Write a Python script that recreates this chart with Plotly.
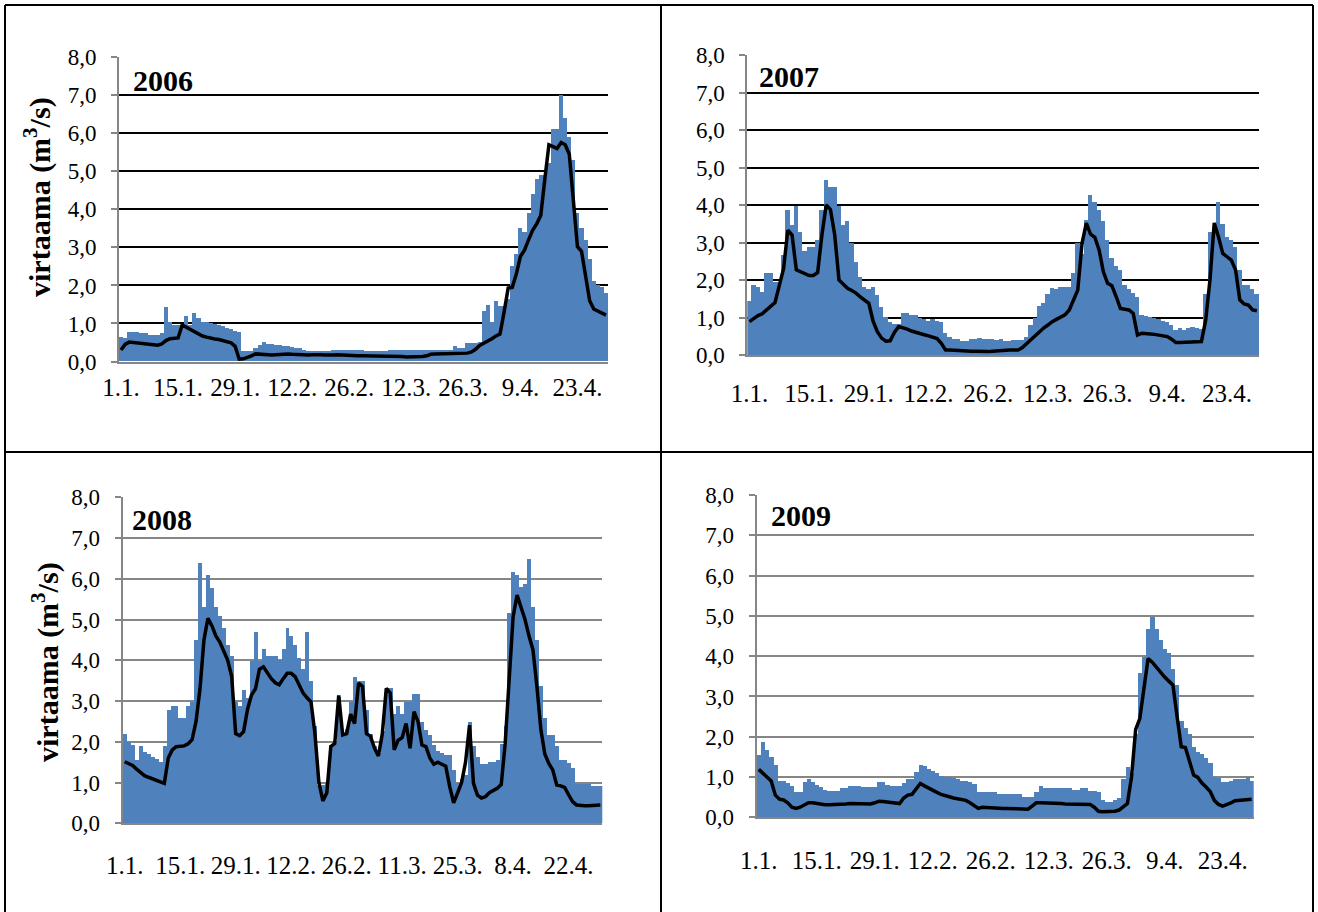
import plotly.graph_objects as go

W, H = 1318, 912
FONT = "Liberation Serif, Times New Roman, serif"
BAR_COLOR = "#4F81BD"

# Daily discharge (m3/s), 1 Jan - 30 Apr, and the smoothed curve for each year
bars_2006 = [0.64, 0.60, 0.77, 0.77, 0.77, 0.73, 0.73, 0.68, 0.68, 0.68,
             0.73, 1.42, 1.02, 0.95, 0.95, 0.95, 1.20, 0.95, 1.26, 1.13,
             1.02, 1.02, 1.00, 0.98, 0.95, 0.92, 0.88, 0.85, 0.80, 0.77,
             0.26, 0.26, 0.26, 0.35, 0.43, 0.50, 0.46, 0.46, 0.43, 0.42,
             0.40, 0.40, 0.38, 0.36, 0.34, 0.30, 0.28, 0.28, 0.28, 0.28,
             0.28, 0.28, 0.30, 0.30, 0.30, 0.30, 0.30, 0.30, 0.30, 0.30,
             0.26, 0.26, 0.26, 0.26, 0.27, 0.27, 0.30, 0.30, 0.30, 0.30,
             0.30, 0.30, 0.30, 0.30, 0.30, 0.30, 0.30, 0.30, 0.30, 0.30,
             0.30, 0.30, 0.39, 0.36, 0.36, 0.47, 0.47, 0.47, 0.50, 1.32,
             1.48, 1.03, 1.58, 1.44, 1.44, 1.64, 2.51, 2.81, 3.51, 3.40,
             3.90, 4.40, 4.80, 4.90, 4.90, 5.20, 6.10, 6.10, 7.00, 6.40,
             5.90, 5.30, 3.90, 3.50, 3.20, 2.70, 2.10, 2.00, 1.95, 1.80]
line_2006 = [0.30, 0.45, 0.51, 0.50, 0.49, 0.48, 0.47, 0.45, 0.44, 0.43,
             0.46, 0.55, 0.60, 0.61, 0.62, 0.96, 0.90, 0.83, 0.77, 0.72,
             0.67, 0.64, 0.61, 0.59, 0.58, 0.55, 0.52, 0.49, 0.40, 0.06,
             0.07, 0.10, 0.15, 0.20, 0.19, 0.18, 0.18, 0.17, 0.18, 0.19,
             0.20, 0.20, 0.19, 0.18, 0.18, 0.17, 0.17, 0.18, 0.19, 0.18,
             0.17, 0.16, 0.17, 0.18, 0.17, 0.16, 0.16, 0.15, 0.15, 0.15,
             0.15, 0.15, 0.14, 0.14, 0.14, 0.13, 0.13, 0.13, 0.13, 0.13,
             0.12, 0.12, 0.12, 0.12, 0.13, 0.15, 0.19, 0.20, 0.20, 0.20,
             0.20, 0.21, 0.21, 0.21, 0.21, 0.22, 0.25, 0.32, 0.42, 0.48,
             0.52, 0.60, 0.67, 0.72, 1.30, 1.93, 1.95, 2.30, 2.76, 2.93,
             3.20, 3.45, 3.62, 3.84, 4.80, 5.70, 5.65, 5.60, 5.76, 5.70,
             5.45, 4.30, 3.02, 2.90, 2.30, 1.60, 1.38, 1.32, 1.26, 1.22]

bars_2007 = [1.45, 1.88, 1.82, 1.69, 2.18, 2.18, 1.94, 1.94, 2.68, 3.87,
             3.47, 3.97, 3.27, 2.77, 2.89, 2.89, 3.07, 3.87, 4.68, 4.49,
             4.49, 3.97, 3.47, 3.57, 3.00, 2.47, 2.07, 1.82, 1.76, 1.82,
             1.60, 1.29, 1.02, 0.89, 0.84, 0.84, 1.13, 1.11, 1.08, 1.08,
             1.00, 0.97, 0.91, 0.95, 0.91, 0.89, 0.58, 0.47, 0.42, 0.42,
             0.37, 0.37, 0.42, 0.42, 0.46, 0.42, 0.42, 0.42, 0.40, 0.42,
             0.37, 0.37, 0.40, 0.40, 0.40, 0.47, 0.80, 0.98, 1.31, 1.38,
             1.63, 1.80, 1.76, 1.82, 1.82, 1.82, 2.18, 3.00, 2.70, 3.60,
             4.28, 4.09, 3.87, 3.57, 3.07, 2.58, 2.37, 2.27, 1.87, 1.75,
             1.66, 1.54, 1.08, 1.05, 1.02, 1.00, 0.96, 0.92, 0.87, 0.80,
             0.67, 0.71, 0.67, 0.71, 0.76, 0.73, 0.69, 1.62, 3.29, 3.29,
             4.09, 3.49, 3.15, 3.07, 2.87, 2.28, 1.87, 1.87, 1.75, 1.62]
line_2007 = [0.89, 0.98, 1.05, 1.10, 1.20, 1.28, 1.40, 1.85, 2.30, 3.33,
             3.20, 2.27, 2.22, 2.18, 2.12, 2.12, 2.20, 3.20, 4.00, 3.88,
             3.20, 2.00, 1.88, 1.78, 1.72, 1.65, 1.55, 1.45, 1.38, 0.90,
             0.62, 0.45, 0.37, 0.38, 0.60, 0.76, 0.73, 0.69, 0.64, 0.60,
             0.56, 0.54, 0.51, 0.48, 0.44, 0.31, 0.13, 0.13, 0.12, 0.12,
             0.12, 0.11, 0.10, 0.10, 0.09, 0.09, 0.09, 0.10, 0.11, 0.13,
             0.13, 0.13, 0.13, 0.13, 0.20, 0.31, 0.42, 0.53, 0.62, 0.72,
             0.80, 0.89, 0.95, 1.00, 1.07, 1.20, 1.45, 1.73, 2.98, 3.52,
             3.22, 3.14, 2.80, 2.22, 1.91, 1.85, 1.56, 1.24, 1.22, 1.20,
             1.11, 0.53, 0.58, 0.58, 0.56, 0.55, 0.53, 0.51, 0.49, 0.42,
             0.33, 0.33, 0.33, 0.33, 0.34, 0.35, 0.36, 0.93, 2.00, 3.52,
             3.15, 2.71, 2.62, 2.53, 2.27, 1.47, 1.36, 1.33, 1.20, 1.18]

bars_2008 = [2.18, 1.99, 1.92, 1.55, 1.88, 1.74, 1.69, 1.63, 1.57, 1.50,
             1.88, 2.78, 2.88, 2.88, 2.58, 2.58, 2.88, 2.98, 4.48, 6.38,
             5.29, 6.08, 5.77, 5.29, 5.07, 4.78, 4.37, 4.09, 2.98, 2.88,
             3.27, 3.07, 3.98, 4.68, 3.98, 4.27, 4.09, 4.09, 4.09, 4.01,
             4.27, 4.78, 4.58, 4.37, 4.05, 3.78, 4.68, 3.48, 2.39, 0.93,
             0.93, 1.00, 1.92, 1.96, 3.10, 2.20, 2.30, 2.98, 3.58, 3.48,
             3.48, 2.78, 2.18, 1.88, 1.72, 2.27, 3.31, 3.31, 2.68, 2.88,
             2.68, 2.98, 2.98, 3.17, 3.17, 2.47, 2.29, 2.17, 1.92, 1.76,
             1.72, 1.68, 1.68, 1.30, 0.98, 1.08, 1.18, 2.47, 1.88, 1.63,
             1.45, 1.45, 1.49, 1.49, 1.54, 1.94, 2.39, 5.16, 6.17, 6.08,
             5.79, 5.87, 6.48, 5.29, 4.48, 3.37, 2.58, 2.17, 2.17, 1.88,
             1.54, 1.54, 1.48, 1.36, 0.96, 0.96, 0.96, 0.96, 0.90, 0.90,
             0.90]
line_2008 = [1.51, 1.47, 1.42, 1.33, 1.24, 1.17, 1.13, 1.09, 1.05, 1.00,
             0.98, 1.60, 1.80, 1.88, 1.90, 1.90, 1.95, 2.05, 2.50, 3.30,
             4.50, 5.03, 4.85, 4.60, 4.45, 4.22, 4.00, 3.60, 2.20, 2.15,
             2.25, 2.80, 3.15, 3.30, 3.78, 3.84, 3.70, 3.55, 3.45, 3.40,
             3.55, 3.68, 3.68, 3.60, 3.40, 3.20, 3.08, 2.98, 2.20, 1.00,
             0.55, 0.75, 1.88, 1.96, 3.14, 2.17, 2.20, 2.68, 2.45, 3.44,
             3.36, 2.20, 2.14, 1.85, 1.65, 2.20, 3.31, 3.20, 1.80, 2.04,
             2.10, 2.45, 1.84, 2.74, 2.50, 1.92, 1.88, 1.60, 1.45, 1.50,
             1.45, 1.40, 0.90, 0.50, 0.75, 1.00, 1.50, 2.41, 0.98, 0.69,
             0.62, 0.65, 0.75, 0.80, 0.86, 0.95, 1.96, 3.52, 5.07, 5.60,
             5.30, 5.00, 4.60, 4.26, 3.36, 2.30, 1.70, 1.47, 1.31, 0.94,
             0.92, 0.88, 0.70, 0.53, 0.45, 0.43, 0.43, 0.43, 0.44, 0.45,
             0.45]

bars_2009 = [1.55, 1.88, 1.67, 1.50, 1.30, 0.91, 0.91, 0.84, 0.78, 0.62,
             0.62, 0.87, 0.95, 0.87, 0.80, 0.75, 0.68, 0.66, 0.66, 0.66,
             0.72, 0.72, 0.78, 0.78, 0.78, 0.74, 0.74, 0.74, 0.74, 0.87,
             0.87, 0.80, 0.78, 0.78, 0.78, 0.84, 0.95, 0.95, 1.13, 1.31,
             1.27, 1.21, 1.15, 1.09, 1.03, 1.00, 0.99, 0.97, 0.94, 0.91,
             0.91, 0.88, 0.82, 0.62, 0.62, 0.62, 0.62, 0.62, 0.58, 0.58,
             0.58, 0.58, 0.58, 0.58, 0.51, 0.51, 0.51, 0.62, 0.78, 0.72,
             0.72, 0.72, 0.72, 0.72, 0.72, 0.72, 0.68, 0.68, 0.72, 0.72,
             0.66, 0.66, 0.64, 0.43, 0.39, 0.39, 0.43, 0.47, 0.94, 1.25,
             1.09, 2.06, 3.57, 3.98, 4.68, 4.98, 4.68, 4.39, 4.17, 4.07,
             3.67, 3.28, 2.39, 2.22, 2.08, 1.75, 1.63, 1.56, 1.46, 1.34,
             0.99, 0.97, 0.87, 0.87, 0.91, 0.94, 0.94, 0.94, 0.99, 0.91]
line_2009 = [1.19, 1.09, 1.02, 0.90, 0.55, 0.45, 0.43, 0.36, 0.25, 0.22,
             0.25, 0.30, 0.36, 0.36, 0.34, 0.33, 0.31, 0.31, 0.31, 0.31,
             0.32, 0.33, 0.34, 0.34, 0.34, 0.34, 0.34, 0.33, 0.36, 0.40,
             0.39, 0.38, 0.35, 0.34, 0.34, 0.48, 0.55, 0.57, 0.72, 0.84,
             0.78, 0.72, 0.66, 0.62, 0.57, 0.53, 0.51, 0.48, 0.46, 0.44,
             0.42, 0.36, 0.28, 0.22, 0.25, 0.24, 0.23, 0.22, 0.22, 0.22,
             0.22, 0.22, 0.21, 0.21, 0.20, 0.20, 0.28, 0.36, 0.36, 0.36,
             0.36, 0.35, 0.35, 0.34, 0.33, 0.33, 0.32, 0.32, 0.32, 0.32,
             0.32, 0.25, 0.15, 0.14, 0.14, 0.15, 0.15, 0.18, 0.26, 0.34,
             1.00, 2.18, 2.45, 3.18, 3.94, 3.85, 3.72, 3.60, 3.48, 3.38,
             3.28, 2.50, 1.75, 1.73, 1.40, 1.05, 0.99, 0.85, 0.75, 0.64,
             0.42, 0.32, 0.28, 0.31, 0.36, 0.41, 0.42, 0.43, 0.43, 0.45]

# Date labels every 14th day
ticks_common = ["1.1.", "15.1.", "29.1.", "12.2.", "26.2.", "12.3.", "26.3.", "9.4.", "23.4."]
ticks_leap = ["1.1.", "15.1.", "29.1.", "12.2.", "26.2.", "11.3.", "25.3.", "8.4.", "22.4."]

# panel: year, bars, line, tick labels, plot box (x0, x1, ytop, ybottom), grid colour,
#        gap below the date labels' axis
panels = [
    ("2006", bars_2006, line_2006, ticks_common, (119, 608, 57.3, 361.5), "#000000", 2),
    ("2007", bars_2007, line_2007, ticks_common, (747.3, 1259, 55, 355), "#000000", 15),
    ("2008", bars_2008, line_2008, ticks_leap, (122.7, 602.3, 497.3, 823.3), "#868686", 19),
    ("2009", bars_2009, line_2009, ticks_common, (756.7, 1253.7, 495, 817.3), "#868686", 20),
]
year_pos = [(131, 81), (757, 76), (130, 519), (769, 515)]

fig = go.Figure()
layout = {}
annotations = []
for k, (year, bars, line, ticks, box, gcol, xgap) in enumerate(panels, start=1):
    n = len(bars)
    days = list(range(n))
    xa = "x" if k == 1 else f"x{k}"
    ya = "y" if k == 1 else f"y{k}"
    fig.add_trace(go.Bar(x=days, y=bars, marker=dict(color=BAR_COLOR, line=dict(width=0)),
                         xaxis=xa, yaxis=ya, showlegend=False))
    fig.add_trace(go.Scatter(x=days, y=line, mode="lines", line=dict(color="black", width=3.5),
                             xaxis=xa, yaxis=ya, showlegend=False))
    x0, x1, yt, yb = box
    xkey = "xaxis" if k == 1 else f"xaxis{k}"
    ykey = "yaxis" if k == 1 else f"yaxis{k}"
    layout[xkey] = dict(
        domain=[x0 / W, x1 / W], anchor=ya, range=[-0.5, n - 0.5], automargin=False,
        tickmode="array", tickvals=list(range(0, n, 14))[:len(ticks)], ticktext=ticks,
        tickangle=0, showgrid=False, zeroline=False, showline=True,
        linecolor="#868686", linewidth=2, ticks="",
        tickfont=dict(family=FONT, size=25, color="black"), ticklabelstandoff=xgap,
    )
    layout[ykey] = dict(
        domain=[1 - yb / H, 1 - yt / H], anchor=xa, range=[0, 8], dtick=1, automargin=False,
        tickformat=".1f", showgrid=True, gridcolor=gcol, gridwidth=2,
        zeroline=False, showline=True, linecolor="#868686", linewidth=2,
        ticks="outside", ticklen=6, tickcolor="#868686", tickwidth=2,
        tickfont=dict(family=FONT, size=23, color="black"), ticklabelstandoff=10,
    )
    yx, yy = year_pos[k - 1]
    annotations.append(dict(x=yx / W, y=1 - yy / H, xref="paper", yref="paper",
                            xanchor="left", yanchor="middle", showarrow=False,
                            text=f"<b>{year}</b>", font=dict(family=FONT, size=30, color="black")))

for cx, cy in [(37, 197), (45, 662)]:
    annotations.append(dict(x=cx / W, y=1 - cy / H, xref="paper", yref="paper",
                            xanchor="center", yanchor="middle", showarrow=False, textangle=-90,
                            text="<b>virtaama (m<sup>3</sup>/s)</b>",
                            font=dict(family=FONT, size=30, color="black")))

# Table frame around the four charts
frame = []
def seg(xa0, ya0, xa1, ya1):
    frame.append(dict(type="line", xref="paper", yref="paper",
                      x0=xa0 / W, y0=1 - ya0 / H, x1=xa1 / W, y1=1 - ya1 / H,
                      line=dict(color="black", width=2)))
seg(5, 5, 1313, 5)
seg(5, 5, 5, 912)
seg(1313, 5, 1313, 912)
seg(661, 5, 661, 912)
seg(5, 452, 1313, 452)

fig.update_layout(
    width=W, height=H, margin=dict(l=0, r=0, t=0, b=0, autoexpand=False),
    paper_bgcolor="white", plot_bgcolor="white",
    bargap=0, separators=", ", annotations=annotations, shapes=frame,
    **layout,
)
fig.write_html("out.html",
               post_script="document.body.style.margin='0';document.body.style.overflow='hidden';")
